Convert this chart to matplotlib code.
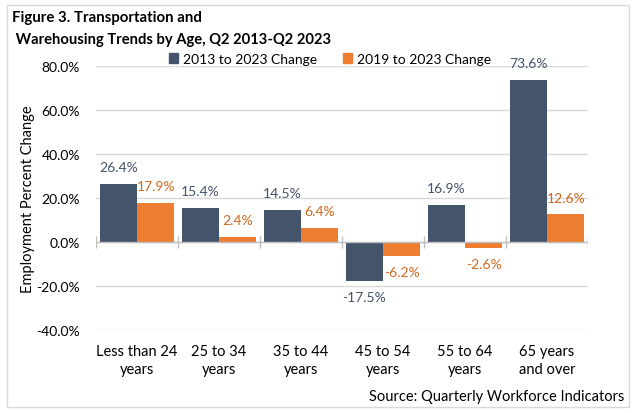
import matplotlib.pyplot as plt
import matplotlib.patches as mpatches
import numpy as np

plt.rcParams['font.family'] = ['Lato', 'DejaVu Sans']

categories = ['Less than 24\nyears', '25 to 34\nyears', '35 to 44\nyears',
              '45 to 54\nyears', '55 to 64\nyears', '65 years\nand over']
change_2013 = [26.4, 15.4, 14.5, -17.5, 16.9, 73.6]
change_2019 = [17.9, 2.4, 6.4, -6.2, -2.6, 12.6]
series_names = ['2013 to 2023 Change', '2019 to 2023 Change']

dark = '#44546A'
orange = '#ED7D31'
orange_txt = '#D0671F'
grid_c = '#D9D9D9'

fig = plt.figure(figsize=(6.36, 4.14), dpi=100)
ax = fig.add_axes([96/636, 1 - 331/414, (588 - 96)/636, (331 - 67)/414])

x = np.arange(len(categories))
w = 0.457
ax.bar(x - w/2, change_2013, width=w, color=dark, zorder=3)
ax.bar(x + w/2, change_2019, width=w, color=orange, zorder=3)

ax.set_xlim(-0.5, len(categories) - 0.5)
ax.set_ylim(-40, 80)
yt = np.arange(-40, 81, 20)
ax.set_yticks(yt)
ax.set_yticklabels([f'{v:.1f}%' for v in yt], fontsize=10)
ax.set_xticks(x)
ax.set_xticklabels(categories, fontsize=10.5, linespacing=1.35)
ax.tick_params(axis='both', length=0, colors='black')
ax.tick_params(axis='y', pad=11.5)
ax.tick_params(axis='x', pad=10)
for s in ax.spines.values():
    s.set_visible(False)
ax.grid(axis='y', color=grid_c, linewidth=1, zorder=0)
ax.axhline(0, color='#BFBFBF', linewidth=1, zorder=4)
ax.vlines(np.arange(-0.5, len(categories)), -2.75, 2.75, color='#BFBFBF', linewidth=1, zorder=4)

ax.set_ylabel('Employment Percent Change', fontsize=10.5, labelpad=1)

# data labels
for i, v in enumerate(change_2013):
    ax.annotate(f'{v:.1f}%', (x[i] - w/2, v), xytext=(0, 12 if v >= 0 else -12),
                textcoords='offset points', ha='center', va='center',
                fontsize=10, color=dark)
for i, v in enumerate(change_2019):
    ax.annotate(f'{v:.1f}%', (x[i] + w/2, v), xytext=(0, 12 if v >= 0 else -12),
                textcoords='offset points', ha='center', va='center',
                fontsize=10, color=orange_txt)

# titles and legend
fig.text(12/636, 1 - 18/414, 'Figure 3. Transportation and', fontsize=10.8,
         fontweight='bold', va='center', ha='left')
fig.text(12/636, 1 - 40/414, ' Warehousing Trends by Age, Q2 2013-Q2 2023', fontsize=10.6,
         fontweight='bold', va='center', ha='left')
handles = [mpatches.Patch(color=dark, label=series_names[0]),
           mpatches.Patch(color=orange, label=series_names[1])]
fig.legend(handles=handles, loc='center', bbox_to_anchor=(330/636, 1 - 60/414), ncol=2,
           frameon=False, fontsize=10, handlelength=0.65, handleheight=0.65,
           handletextpad=0.35, columnspacing=1.85, borderpad=0, borderaxespad=0)
fig.text(624/636, 1 - 397/414, 'Source: Quarterly Workforce Indicators', fontsize=10.5,
         ha='right', va='center')

fig.patches.append(mpatches.Rectangle((7/636, 1 - 408/414), 622/636, 402/414,
                                      transform=fig.transFigure, fill=False,
                                      edgecolor=grid_c, linewidth=1))

fig.savefig('out.png', dpi=100)
